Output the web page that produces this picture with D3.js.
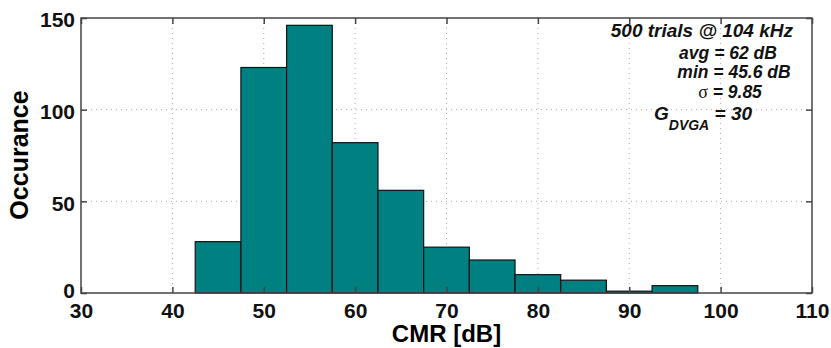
<!DOCTYPE html>
<html>
<head>
<meta charset="utf-8">
<script src="https://cdn.jsdelivr.net/npm/d3@7"></script>
<style>
  body { margin: 0; background: #fff; }
  text { font-family: "Liberation Sans", Arial, sans-serif; font-weight: bold; }
</style>
</head>
<body>
<svg id="chart" width="831" height="348"></svg>
<script>
// histogram bins (lower edge, dB) and counts
const binStarts = [42.5, 47.5, 52.5, 57.5, 62.5, 67.5, 72.5, 77.5, 82.5, 87.5, 92.5];
const counts = [28, 123, 146, 82, 56, 25, 18, 10, 7, 1, 4];
const binWidth = 5;
const xTicks = [30, 40, 50, 60, 70, 80, 90, 100, 110];
const yTicks = [0, 50, 100, 150];

const svg = d3.select("#chart");
const margin = { left: 81, right: 19, top: 18, bottom: 55 };
const width = 831, height = 348;
const x0 = margin.left, x1 = width - margin.right;
const y0 = height - margin.bottom, y1 = margin.top;

const x = d3.scaleLinear().domain([30, 110]).range([x0, x1]);
const y = d3.scaleLinear().domain([0, 150]).range([y0, y1]);

// grid
const grid = svg.append("g")
  .attr("stroke", "#aaa")
  .attr("stroke-width", 1)
  .attr("stroke-dasharray", "1,4");
grid.selectAll(".gx").data(xTicks.slice(1, -1)).enter().append("line")
  .attr("x1", d => x(d)).attr("x2", d => x(d))
  .attr("y1", y1).attr("y2", y0);
grid.selectAll(".gy").data(yTicks.slice(1, -1)).enter().append("line")
  .attr("x1", x0).attr("x2", x1)
  .attr("y1", d => y(d)).attr("y2", d => y(d));

// bars
svg.append("g").selectAll("rect")
  .data(binStarts.map((s, i) => ({ s, c: counts[i] })))
  .enter().append("rect")
  .attr("x", d => x(d.s))
  .attr("width", d => x(d.s + binWidth) - x(d.s))
  .attr("y", d => y(d.c))
  .attr("height", d => y(0) - y(d.c))
  .attr("fill", "#008080")
  .attr("stroke", "#111")
  .attr("stroke-width", 1.2);

// axes with inner ticks, mirrored on top/right
const tick = 6;
const axisColor = "#444";
const fmt = d3.format("d");
const axB = svg.append("g").attr("transform", `translate(0,${y0})`)
  .call(d3.axisBottom(x).tickValues(xTicks).tickSize(-tick).tickPadding(10).tickFormat(fmt));
const axT = svg.append("g").attr("transform", `translate(0,${y1})`)
  .call(d3.axisTop(x).tickValues(xTicks).tickSize(-tick).tickFormat(""));
const axL = svg.append("g").attr("transform", `translate(${x0},0)`)
  .call(d3.axisLeft(y).tickValues(yTicks).tickSize(-tick).tickPadding(6).tickFormat(fmt));
const axR = svg.append("g").attr("transform", `translate(${x1},0)`)
  .call(d3.axisRight(y).tickValues(yTicks).tickSize(-tick).tickFormat(""));

[axB, axT, axL, axR].forEach(g => {
  g.select(".domain").remove();
  g.selectAll(".tick line").attr("stroke", axisColor).attr("stroke-width", 1.5);
  g.selectAll(".tick text").attr("fill", "#111").style("font-size", "21px")
    .style("font-family", "'Liberation Sans', Arial, sans-serif").style("font-weight", "bold");
});
axB.selectAll(".tick text").attr("dy", "0.71em");
axL.selectAll(".tick text").attr("dy", d => d === 0 ? "0.2em" : "0.42em");

svg.append("rect")
  .attr("x", x0).attr("y", y1)
  .attr("width", x1 - x0).attr("height", y0 - y1)
  .attr("fill", "none").attr("stroke", axisColor).attr("stroke-width", 1.5);

// axis labels
svg.append("text")
  .attr("x", (x0 + x1) / 2).attr("y", 342)
  .attr("text-anchor", "middle")
  .style("font-size", "24px")
  .text("CMR [dB]");
svg.append("text")
  .attr("transform", `translate(28,155) rotate(-90)`)
  .attr("text-anchor", "middle")
  .style("font-size", "25px")
  .text("Occurance");

// annotation
const note = svg.append("g").style("font-style", "italic").style("font-size", "17.5px").attr("fill", "#111");
note.append("text").attr("x", 793).attr("y", 37).attr("text-anchor", "end")
  .style("font-size", "19px").text("500 trials @ 104 kHz");
note.append("text").attr("x", 728).attr("y", 58.5).attr("text-anchor", "middle").text("avg = 62 dB");
note.append("text").attr("x", 734).attr("y", 78).attr("text-anchor", "middle").text("min = 45.6 dB");
const sig = note.append("text").attr("x", 730).attr("y", 98).attr("text-anchor", "middle");
sig.append("tspan").style("font-style", "normal").style("font-weight", "normal")
  .style("font-family", "'Liberation Serif', serif").style("font-size", "18px").text("σ");
sig.append("tspan").text(" = 9.85");
const gd = note.append("text").attr("x", 654).attr("y", 120).style("font-size", "19px");
gd.append("tspan").text("G");
gd.append("tspan").attr("dy", 10).style("font-size", "14px").text("DVGA");
gd.append("tspan").attr("dy", -10).text(" = 30");
</script>
</body>
</html>
